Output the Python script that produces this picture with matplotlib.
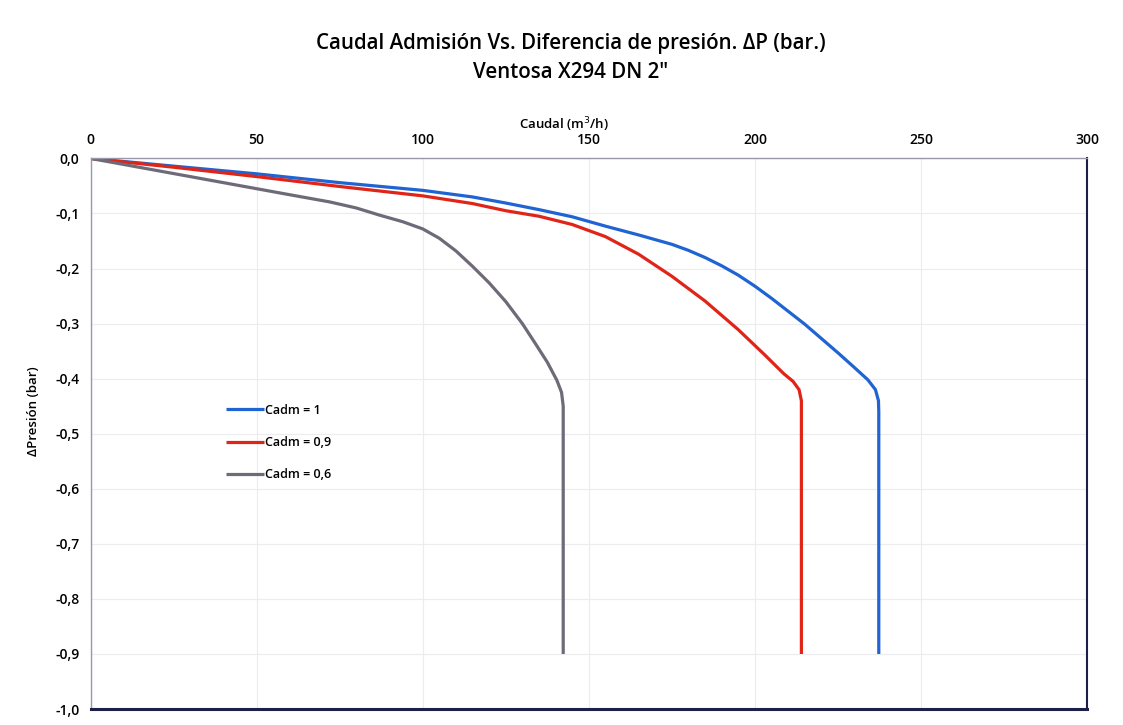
import matplotlib.pyplot as plt
import numpy as np

# curvas (caudal m3/h, delta P bar)
caudal_c1 = [0, 25, 50, 75, 100, 115, 125, 135, 145, 155, 165, 175, 180, 185, 190, 195,
             200, 205, 215, 225, 230, 234, 236.3, 237.2, 237.3, 237.3]
dp_c1 = [0, -0.014, -0.028, -0.044, -0.058, -0.07, -0.081, -0.093, -0.106, -0.123,
         -0.139, -0.156, -0.167, -0.18, -0.195, -0.212, -0.232, -0.254, -0.301, -0.353,
         -0.38, -0.402, -0.42, -0.44, -0.46, -0.9]

caudal_c09 = [0, 25, 50, 75, 100, 115, 125, 135, 145, 155, 165, 175, 185, 195, 203,
              208.7, 211.5, 213.3, 214, 214]
dp_c09 = [0, -0.016, -0.033, -0.051, -0.068, -0.082, -0.095, -0.105, -0.12, -0.142,
          -0.174, -0.214, -0.259, -0.311, -0.357, -0.391, -0.405, -0.42, -0.44, -0.9]

caudal_c06 = [0, 20, 40, 60, 72, 80, 87, 94, 100, 105, 110, 115, 120, 125, 130, 134,
              137.5, 140.4, 141.8, 142.3, 142.3]
dp_c06 = [0, -0.022, -0.044, -0.066, -0.079, -0.09, -0.103, -0.115, -0.128, -0.145,
          -0.168, -0.196, -0.226, -0.26, -0.3, -0.337, -0.37, -0.403, -0.425, -0.45, -0.9]

etiquetas = ["Cadm = 1", "Cadm = 0,9", "Cadm = 0,6"]
colores = ["#1f64d2", "#e02418", "#6f6a78"]

xticks = [0, 50, 100, 150, 200, 250, 300]
yticks = np.round(np.arange(0, -1.01, -0.1), 1)

plt.rcParams["font.family"] = ["Open Sans", "DejaVu Sans"]

fig = plt.figure(figsize=(11.23, 7.25), dpi=100)
ax = fig.add_axes([0.0806, 0.022, 0.8874, 0.7595])

series = [(caudal_c1, dp_c1), (caudal_c09, dp_c09), (caudal_c06, dp_c06)]
for (x, y), lab, col in zip(series, etiquetas, colores):
    ax.plot(x, y, color=col, lw=2.3, label=lab, solid_capstyle="butt",
            solid_joinstyle="round")

ax.set_xlim(0, 300)
ax.set_ylim(-1.0, 0.0)
ax.xaxis.tick_top()
ax.set_xticks(xticks)
ax.set_xticklabels([str(v) for v in xticks], fontsize=10, fontweight="semibold")
ax.set_yticks(yticks)
ax.set_yticklabels([f"{v:.1f}".replace(".", ",").replace("-0,0", "0,0") for v in yticks],
                   fontsize=10, fontweight="semibold")
ax.tick_params(length=0, pad=8)
ax.grid(True, color="#ececf0", lw=0.8)
ax.set_axisbelow(True)

for s in ["top", "left"]:
    ax.spines[s].set_color("#9a98a8")
    ax.spines[s].set_linestyle((0, (2, 1)))
    ax.spines[s].set_linewidth(1.0)
ax.spines["right"].set_color("#1c2048")
ax.spines["right"].set_linewidth(1.5)
ax.spines["bottom"].set_color("#1c2048")
ax.spines["bottom"].set_linewidth(2.2)

fig.text(0.508, 0.94, "Caudal Admisión Vs. Diferencia de presión. ΔP (bar.)",
         ha="center", va="center", fontsize=14.8, fontweight="semibold")
fig.text(0.508, 0.90, "Ventosa X294 DN 2\"",
         ha="center", va="center", fontsize=14.8, fontweight="semibold")
fig.text(0.502, 0.828, "Caudal (m$^3$/h)", ha="center", va="center",
         fontsize=9.5, fontweight="semibold")
fig.text(0.03, 0.433, "ΔPresión (bar)", ha="center", va="center", rotation=90,
         fontsize=9.5, fontweight="semibold")

leg = ax.legend(loc="upper left", bbox_to_anchor=(0.125, 0.575), frameon=False,
                fontsize=9, handlelength=3.0, handletextpad=0.1, labelspacing=1.55)
for t in leg.get_texts():
    t.set_fontweight("semibold")

fig.savefig("out.png", dpi=100, facecolor="white")
